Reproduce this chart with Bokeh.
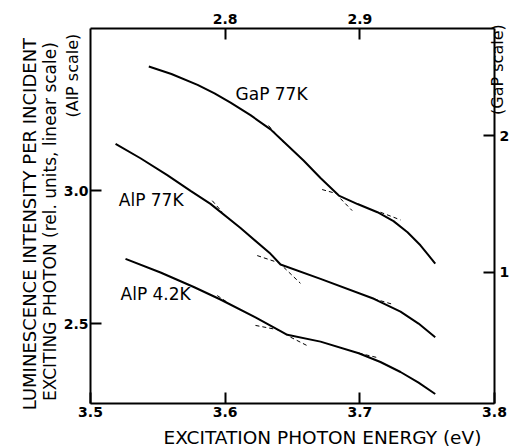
import math
from bokeh.plotting import figure
from bokeh.models import Range1d, LinearAxis, FixedTicker, Label
from bokeh.embed import file_html
from bokeh.resources import INLINE

# ---- data ----
# AlP curves: bottom axis (eV) vs left axis (AlP scale)
alp77_x = [3.5186, 3.5371, 3.5570, 3.5743, 3.5891, 3.6114, 3.6337, 3.6411, 3.6708, 3.7104, 3.7302, 3.7436, 3.7560]
alp77_y = [3.1752, 3.1212, 3.0581, 2.9989, 2.9501, 2.8593, 2.7626, 2.7224, 2.6688, 2.5938, 2.5454, 2.5008, 2.4497]
alp42_x = [3.5260, 3.5520, 3.5767, 3.5965, 3.6225, 3.6411, 3.6461, 3.6708, 3.6992, 3.7153, 3.7302, 3.7436, 3.7560]
alp42_y = [2.7438, 2.6924, 2.6380, 2.5912, 2.5240, 2.4730, 2.4587, 2.4332, 2.3897, 2.3567, 2.3192, 2.2794, 2.2367]
# GaP curve: top axis (GaP energy) vs right axis (GaP scale)
gap_x = [2.7433, 2.7601, 2.7795, 2.7921, 2.8040, 2.8188, 2.8337, 2.8411, 2.8582, 2.8708, 2.8844,
         2.8983, 2.9131, 2.9250, 2.9354, 2.9450, 2.9560]
gap_y = [2.505, 2.450, 2.371, 2.308, 2.241, 2.149, 2.045, 1.976, 1.817, 1.689, 1.561,
         1.499, 1.439, 1.374, 1.293, 1.197, 1.064]

# dashed tangent segments
alp_tan_x0 = [3.5904, 3.6238, 3.6435, 3.7104, 3.5941, 3.6225, 3.6485, 3.6992]
alp_tan_y0 = [2.962, 2.756, 2.712, 2.594, 2.606, 2.494, 2.450, 2.390]
alp_tan_x1 = [3.5978, 3.6386, 3.6559, 3.7252, 3.6015, 3.6398, 3.6621, 3.7141]
alp_tan_y1 = [2.919, 2.731, 2.652, 2.572, 2.581, 2.477, 2.415, 2.372]
gap_tan_x0 = [2.8322, 2.872, 2.8856, 2.9153]
gap_tan_y0 = [2.073, 1.605, 1.539, 1.439]
gap_tan_x1 = [2.8433, 2.8832, 2.8943, 2.9302]
gap_tan_y1 = [1.949, 1.574, 1.451, 1.383]

curve_labels = ["GaP 77K", "AlP 77K", "AlP 4.2K"]
curve_label_x = [3.6077, 3.521, 3.5223]
curve_label_y = [3.364, 2.966, 2.610]

bottom_ticks = [3.5, 3.6, 3.7, 3.8]
bottom_labels = ["3.5", "3.6", "3.7", "3.8"]
top_ticks = [2.8, 2.9]
top_labels = ["2.8", "2.9"]
left_ticks = [2.5, 3.0]
left_labels = ["2.5", "3.0"]
right_ticks = [1, 2]
right_labels = ["1", "2"]

x_title = "EXCITATION PHOTON ENERGY (eV)"
# left rotated titles: text, x (centre of the letters), y (centre along the text), font size
left_titles = ["LUMINESCENCE INTENSITY PER INCIDENT",
               "EXCITING PHOTON (rel. units, linear scale)",
               "(AlP scale)"]
left_title_x = [3.4545, 3.4699, 3.4863]
left_title_y = [2.8743, 2.8837, 3.4313]
left_title_size = ["18px", "17px", "16px"]
right_title = "(GaP scale)"
right_title_x = 3.8092
right_title_y = 3.4539

FONT = "DejaVu Sans"

p = figure(width=518, height=447, output_backend="svg", toolbar_location=None,
           x_axis_location=None, y_axis_location=None,
           x_range=Range1d(3.5, 3.8), y_range=Range1d(2.201, 3.608),
           min_border_left=90, min_border_right=24, min_border_top=28, min_border_bottom=44)
p.extra_x_ranges = {"gx": Range1d(2.7, 3.0)}
p.extra_y_ranges = {"gy": Range1d(0.040, 2.783)}
p.grid.visible = False
p.outline_line_color = None
p.background_fill_color = "white"
p.border_fill_color = "white"


def style(ax, ticks, labels, standoff):
    ax.ticker = FixedTicker(ticks=ticks)
    ax.major_label_overrides = {t: l for t, l in zip(ticks, labels)}
    ax.axis_line_width = 2
    ax.axis_line_color = "black"
    ax.major_tick_in = 11
    ax.major_tick_out = 0
    ax.major_tick_line_width = 2
    ax.major_tick_line_color = "black"
    ax.minor_tick_line_color = None
    ax.major_label_text_font = FONT
    ax.major_label_text_font_size = "14px"
    ax.major_label_text_font_style = "bold"
    ax.major_label_text_color = "black"
    ax.major_label_standoff = standoff


bx = LinearAxis(); style(bx, bottom_ticks, bottom_labels, 3)
tx = LinearAxis(x_range_name="gx"); style(tx, top_ticks, top_labels, 5)
ly = LinearAxis(); style(ly, left_ticks, left_labels, 2)
ry = LinearAxis(y_range_name="gy"); style(ry, right_ticks, right_labels, 5)
p.add_layout(bx, "below")
p.add_layout(tx, "above")
p.add_layout(ly, "left")
p.add_layout(ry, "right")

p.line(alp77_x, alp77_y, line_color="black", line_width=2)
p.line(alp42_x, alp42_y, line_color="black", line_width=2)
p.line(gap_x, gap_y, line_color="black", line_width=2, x_range_name="gx", y_range_name="gy")

p.segment(x0=alp_tan_x0, y0=alp_tan_y0, x1=alp_tan_x1, y1=alp_tan_y1,
          line_color="black", line_width=1, line_dash="4 3")
p.segment(x0=gap_tan_x0, y0=gap_tan_y0, x1=gap_tan_x1, y1=gap_tan_y1,
          line_color="black", line_width=1, line_dash="4 3",
          x_range_name="gx", y_range_name="gy")

for t, x, y in zip(curve_labels, curve_label_x, curve_label_y):
    p.add_layout(Label(x=x, y=y, text=t, text_font=FONT, text_font_size="17px",
                       text_align="left", text_baseline="middle", text_color="black"))

# bottom title: a data-positioned label living in the bottom side panel (not clipped)
p.add_layout(Label(x=3.5542, y=2.072, text=x_title, text_font=FONT, text_font_size="18.5px",
                   text_align="left", text_baseline="alphabetic", text_color="black"), "below")

# left titles: rotated, data-positioned labels in the left side panel
for t, x, y, s in zip(left_titles, left_title_x, left_title_y, left_title_size):
    p.add_layout(Label(x=x, y=y, text=t, text_font=FONT, text_font_size=s,
                       angle=math.pi / 2, text_align="center", text_baseline="middle",
                       text_color="black"), "left")

# right title: also lives in the left panel; a leading empty line with line height -1
# keeps its panel footprint at zero so the frame does not move
gap_lab = Label(x=right_title_x, y=right_title_y, text="\n" + right_title, text_font=FONT,
                text_font_size="16px", angle=math.pi / 2, text_align="center",
                text_baseline="top", text_color="black")
try:
    gap_lab.text_line_height = -1.0
except Exception:
    gap_lab.text = right_title
p.add_layout(gap_lab, "left")

open("out.html", "w").write(file_html(p, INLINE))
